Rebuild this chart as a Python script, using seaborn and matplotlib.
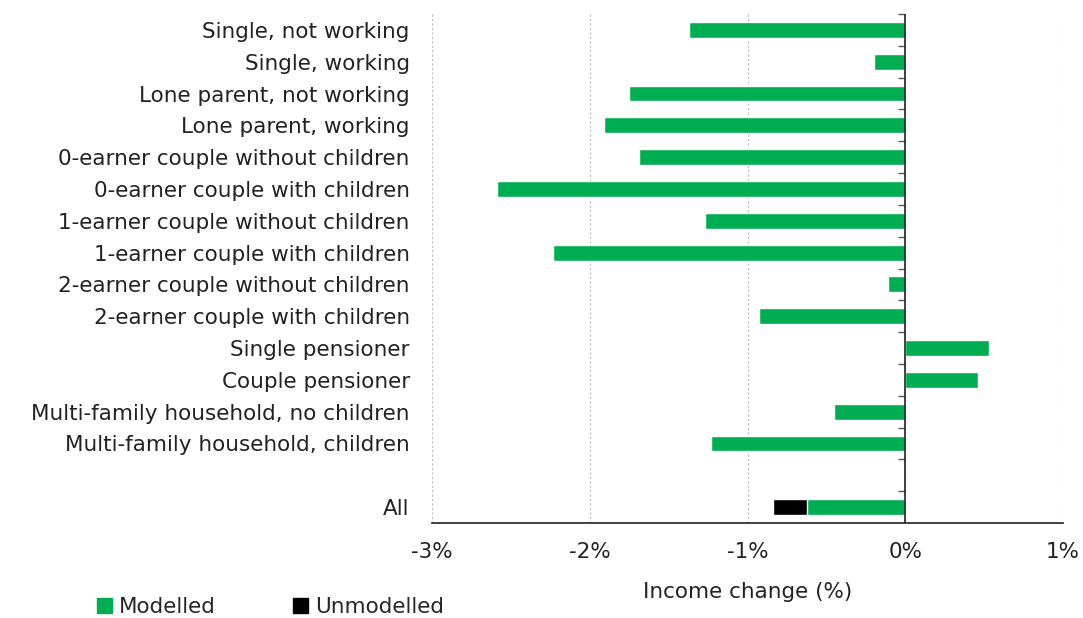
import matplotlib
matplotlib.use("Agg")
import matplotlib.pyplot as plt
import matplotlib.patches as mpatches
import seaborn as sns
import pandas as pd
import numpy as np

categories = [
    "Single, not working",
    "Single, working",
    "Lone parent, not working",
    "Lone parent, working",
    "0-earner couple without children",
    "0-earner couple with children",
    "1-earner couple without children",
    "1-earner couple with children",
    "2-earner couple without children",
    "2-earner couple with children",
    "Single pensioner",
    "Couple pensioner",
    "Multi-family household, no children",
    "Multi-family household, children",
    " ",
    "All",
]
modelled = [-1.37, -0.20, -1.75, -1.91, -1.69, -2.59, -1.27, -2.23, -0.11,
            -0.93, 0.53, 0.46, -0.45, -1.23, np.nan, -0.62]
unmodelled = [0, 0, 0, 0, 0, 0, 0, 0, 0, 0, 0, 0, 0, 0, np.nan, -0.22]
xticks = [-3, -2, -1, 0, 1]
xtick_labels = ["-3%", "-2%", "-1%", "0%", "1%"]

GREEN = "#00AD50"
BLACK = "#000000"
FS = 15.5

sns.set_theme(style="white")
plt.rcParams["font.family"] = ["DejaVu Sans"]

df = pd.DataFrame({"cat": categories, "mod": modelled, "unmod": unmodelled})
df["total"] = df["mod"] + df["unmod"]

fig = plt.figure(figsize=(10.83, 6.18), dpi=100)
ax = fig.add_axes([432 / 1083, 1 - 523 / 618, (1063 - 432) / 1083, (523 - 14) / 618])

sns.barplot(data=df, y="cat", x="total", order=categories, color=BLACK,
            saturation=1, width=0.5, ax=ax, orient="h", errorbar=None)
sns.barplot(data=df, y="cat", x="mod", order=categories, color=GREEN,
            saturation=1, width=0.5, ax=ax, orient="h", errorbar=None)

ax.set_xlim(-3, 1)
ax.set_ylim(len(categories) - 0.5, -0.5)
ax.set_xticks(xticks)
ax.set_xticklabels(xtick_labels, fontsize=FS, color="#222222")
ax.set_ylabel("")
ax.set_xlabel("Income change (%)", fontsize=FS, color="#222222", labelpad=14)
ax.tick_params(axis="y", length=0, pad=16, labelsize=FS, labelcolor="#222222")
ax.tick_params(axis="x", length=5, width=1, color="#333333", direction="out", pad=9)

for s in ["left", "right", "top"]:
    ax.spines[s].set_visible(False)
ax.spines["bottom"].set_color("#222222")
ax.spines["bottom"].set_linewidth(1.2)

ax.grid(axis="x", linestyle=(0, (2, 2)), color="#bbbbbb", linewidth=0.8)
ax.grid(axis="y", visible=False)
ax.set_axisbelow(True)
ax.axvline(0, color="#222222", linewidth=1.2, zorder=5)

# small ticks between categories along the zero line
sec = ax.secondary_yaxis(0.75)
sec.set_yticks(np.arange(-0.5, len(categories) - 0.5, 1.0))
sec.set_yticklabels([])
sec.tick_params(axis="y", length=5, width=1, color="#555555", direction="in")
sec.spines["left"].set_visible(False)
sec.spines["right"].set_visible(False)

handles = [mpatches.Patch(color=GREEN, label="Modelled"),
           mpatches.Patch(color=BLACK, label="Unmodelled")]
fig.legend(handles=handles, loc="lower left", bbox_to_anchor=(0.072, -0.03),
           ncol=2, frameon=False, fontsize=FS, handlelength=0.7,
           handleheight=0.7, handletextpad=0.3, columnspacing=3.6)

fig.savefig("out.png", dpi=100)
